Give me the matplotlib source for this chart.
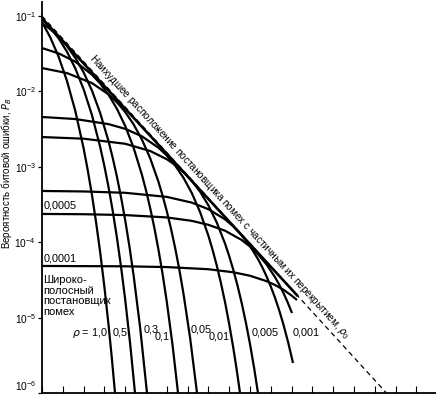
import matplotlib.pyplot as plt
import numpy as np
from matplotlib.ticker import MultipleLocator, NullLocator, LogLocator

plt.rcParams['font.family'] = ['Liberation Sans', 'DejaVu Sans']

# Кривые P_B для разных rho; x - отношение сигнал/помеха, дБ от левого края оси
rho_1_x = [0, 1, 2, 3, 4, 5, 5.5, 6, 6.5, 7, 7.5, 8, 8.4, 8.774]
rho_1_p = [8.32e-2, 5.19e-2, 2.88e-2, 1.38e-2, 5.52e-3, 1.76e-3, 9.01e-4, 4.26e-4,
           1.84e-4, 7.24e-5, 2.55e-5, 7.96e-6, 2.85e-6, 1.0e-6]

rho_05_x = [0, 1, 2, 3, 4, 5, 6, 7, 7.5, 8, 8.5, 9, 9.5, 10, 10.6, 11.178]
rho_05_p = [9.12e-2, 7.01e-2, 5.05e-2, 3.36e-2, 2.02e-2, 1.07e-2, 4.87e-3, 1.82e-3,
            1.02e-3, 5.35e-4, 2.60e-4, 1.16e-4, 4.72e-5, 1.73e-5, 4.44e-6, 1.0e-6]

rho_03_x = [0, 1, 2, 3, 4, 5, 6, 7, 8, 8.5, 9, 9.5, 10, 10.5, 11, 11.8, 12.62]
rho_03_p = [8.04e-2, 6.68e-2, 5.31e-2, 3.99e-2, 2.79e-2, 1.79e-2, 1.03e-2, 5.14e-3,
            2.18e-3, 1.31e-3, 7.44e-4, 3.96e-4, 1.96e-4, 8.90e-5, 3.70e-5, 7.30e-6, 1.0e-6]

rho_01_x = [0, 2, 4, 6, 7, 8, 9, 10, 11, 12, 12.5, 13, 13.5, 14, 14.5, 15, 15.7, 16.35]
rho_01_p = [3.76e-2, 3.19e-2, 2.48e-2, 1.67e-2, 1.27e-2, 9.02e-3, 5.90e-3, 3.48e-3,
            1.80e-3, 7.91e-4, 4.88e-4, 2.84e-4, 1.56e-4, 7.95e-5, 3.75e-5, 1.62e-5,
            4.24e-6, 1.0e-6]

rho_005_x = [0, 3, 6, 8, 9, 10, 11, 12, 13, 14, 14.5, 15, 15.5, 16, 16.5, 17, 17.8, 18.63]
rho_005_p = [2.04e-2, 1.75e-2, 1.29e-2, 9.13e-3, 7.18e-3, 5.33e-3, 3.67e-3, 2.31e-3,
             1.30e-3, 6.32e-4, 4.13e-4, 2.57e-4, 1.52e-4, 8.42e-5, 4.37e-5, 2.09e-5,
             5.39e-6, 1.0e-6]

rho_001_x = [0, 4, 8, 10, 12, 14, 15, 16, 17, 18, 19, 20, 20.5, 21, 21.5, 22, 22.5, 23, 23.4, 23.8]
rho_001_p = [4.58e-3, 4.30e-3, 3.68e-3, 3.19e-3, 2.54e-3, 1.79e-3, 1.41e-3, 1.04e-3,
             7.17e-4, 4.50e-4, 2.51e-4, 1.22e-4, 7.93e-5, 4.93e-5, 2.89e-5, 1.60e-5,
             8.21e-6, 3.92e-6, 2.04e-6, 1.0e-6]

rho_0005_x = [0, 5, 10, 13, 15, 16, 17, 18, 19, 20, 21, 22, 22.5, 23, 23.5, 24, 24.5, 25, 25.5, 25.96]
rho_0005_p = [2.48e-3, 2.36e-3, 2.02e-3, 1.62e-3, 1.26e-3, 1.06e-3, 8.55e-4, 6.54e-4,
              4.68e-4, 3.08e-4, 1.83e-4, 9.58e-5, 6.54e-5, 4.27e-5, 2.66e-5, 1.56e-5,
              8.64e-6, 4.46e-6, 2.13e-6, 1.0e-6]

rho_0001_x = [0, 5, 10, 15, 18, 20, 22, 23, 24, 25, 26, 26.5, 27, 27.5, 28, 28.5, 29, 29.6, 30.17]
rho_0001_p = [4.78e-4, 4.71e-4, 4.52e-4, 3.99e-4, 3.35e-4, 2.74e-4, 2.01e-4, 1.62e-4,
              1.24e-4, 8.89e-5, 5.87e-5, 4.60e-5, 3.50e-5, 2.58e-5, 1.84e-5, 1.26e-5,
              8.23e-6, 4.63e-6, 2.50e-6]

rho_00005_x = [0, 5, 10, 15, 18, 20, 22, 24, 25, 26, 27, 28, 28.5, 29, 29.5, 30.05]
rho_00005_p = [2.37e-4, 2.35e-4, 2.29e-4, 2.13e-4, 1.92e-4, 1.70e-4, 1.42e-4, 1.07e-4,
               8.76e-5, 6.85e-5, 5.05e-5, 3.45e-5, 2.75e-5, 2.14e-5, 1.62e-5, 1.15e-5]

rho_00001_x = [0, 10, 15, 20, 23, 25, 27, 28, 29, 30, 30.65]
rho_00001_p = [4.84e-5, 4.79e-5, 4.68e-5, 4.38e-5, 3.99e-5, 3.59e-5, 3.04e-5, 2.71e-5,
               2.35e-5, 1.96e-5, 1.71e-5]

# наихудший случай (сплошная) и асимптота (штриховая)
worst_x = [0, 30.65]
worst_p = [9.33e-2, 1.98e-5]
asym_x = [0, 41.4]
asym_p = [1.0e-1, 1.0e-6]

curves = [
    (rho_1_x, rho_1_p), (rho_05_x, rho_05_p), (rho_03_x, rho_03_p),
    (rho_01_x, rho_01_p), (rho_005_x, rho_005_p), (rho_001_x, rho_001_p),
    (rho_0005_x, rho_0005_p), (rho_0001_x, rho_0001_p),
    (rho_00005_x, rho_00005_p), (rho_00001_x, rho_00001_p),
]

fig = plt.figure(figsize=(4.36, 3.95), dpi=100)
ax = fig.add_axes([42 / 436, 2 / 395, 394 / 436, 391 / 395])
ax.set_yscale('log')
ax.set_xlim(0, 394 / 8.32)
ax.set_ylim(1e-6, 10 ** (-1 + 14 / 75.4))

for xs, ps in curves:
    ax.plot(xs, ps, color='black', lw=1.6, solid_capstyle='butt')
ax.plot(worst_x, worst_p, color='black', lw=1.9)
ax.plot(asym_x, asym_p, color='black', lw=0.9, dashes=(4, 3))

# оси
for side in ['top', 'right']:
    ax.spines[side].set_visible(False)
for side in ['left', 'bottom']:
    ax.spines[side].set_linewidth(1.3)
ax.xaxis.set_major_locator(MultipleLocator(2.5))
ax.tick_params(axis='x', direction='in', length=5, width=0.8, labelbottom=False)
ax.yaxis.set_major_locator(LogLocator(base=10, numticks=10))
ax.yaxis.set_minor_locator(NullLocator())
ax.tick_params(axis='y', direction='out', length=3, width=0.9, pad=1.5, labelsize=7.3)

# подпись 10^-6 у самого края - чуть приподнять
locs = ax.yaxis.get_majorticklocs()
for tick, loc in zip(ax.yaxis.get_major_ticks(len(locs)), locs):
    if abs(np.log10(loc) + 6) < 0.01:
        tick.label1.set_verticalalignment('bottom')

fig.text(7 / 436, 1 - 173 / 395, 'Вероятность битовой ошибки, $P_B$',
         rotation=90, ha='center', va='center', fontsize=7.0)

ax.text(21.4, 4.0e-4,
        'Наихудшее расположение постановщика помех с частичным их перекрытием, $\\rho_0$',
        rotation=-47.6, rotation_mode='anchor', ha='center', va='center', fontsize=7.2)

ax.text(0.15, 3.11e-4, '0,0005', ha='left', va='center', fontsize=7.8)
ax.text(0.15, 6.17e-5, '0,0001', ha='left', va='center', fontsize=7.8)
ax.text(0.15, 1.93e-5, 'Широко-\nполосный\nпостановщик\nпомех',
        ha='left', va='center', fontsize=8, linespacing=1.05)

ax.text(5.77, 6.25e-6, '$\\rho$ = 1,0', ha='center', va='center', fontsize=7.8)
ax.text(9.38, 6.25e-6, '0,5', ha='center', va='center', fontsize=7.8)
ax.text(13.10, 7.06e-6, '0,3', ha='center', va='center', fontsize=7.8)
ax.text(14.42, 5.53e-6, '0,1', ha='center', va='center', fontsize=7.8)
ax.text(19.11, 7.06e-6, '0,05', ha='center', va='center', fontsize=7.8)
ax.text(21.27, 5.53e-6, '0,01', ha='center', va='center', fontsize=7.8)
ax.text(26.80, 6.44e-6, '0,005', ha='center', va='center', fontsize=7.8)
ax.text(31.73, 6.44e-6, '0,001', ha='center', va='center', fontsize=7.8)

fig.savefig('out.png', dpi=100)
